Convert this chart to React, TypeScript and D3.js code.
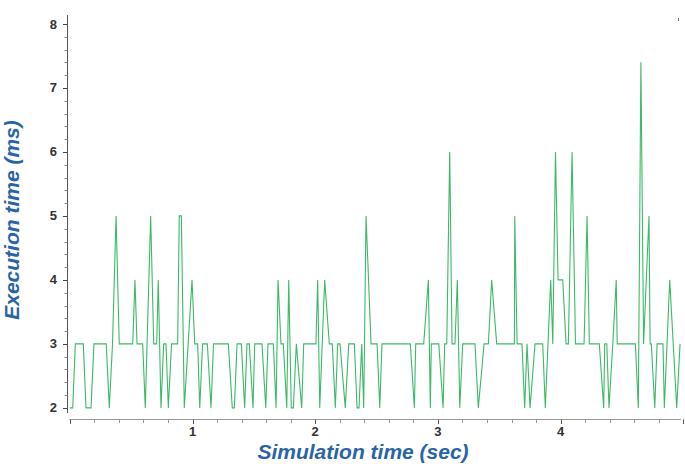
import React from "react";
import * as d3 from "d3";

// Simulation time (sec)
const times: number[] = [
  0, 0.024, 0.045, 0.110, 0.132, 0.173, 0.197, 0.297, 0.322, 0.348,
  0.377, 0.403, 0.513, 0.531, 0.548, 0.594, 0.615, 0.659, 0.684, 0.708,
  0.721, 0.743, 0.765, 0.784, 0.803, 0.829, 0.879, 0.892, 0.909, 0.933,
  0.996, 1.018, 1.042, 1.059, 1.082, 1.121, 1.151, 1.171, 1.292, 1.324,
  1.341, 1.363, 1.398, 1.425, 1.444, 1.463, 1.493, 1.507, 1.566, 1.597,
  1.615, 1.659, 1.681, 1.697, 1.721, 1.740, 1.768, 1.784, 1.805, 1.822,
  1.846, 1.890, 1.906, 2.006, 2.020, 2.037, 2.077, 2.115, 2.139, 2.164,
  2.183, 2.202, 2.245, 2.273, 2.319, 2.341, 2.357, 2.379, 2.395, 2.414,
  2.455, 2.504, 2.526, 2.544, 2.775, 2.808, 2.819, 2.884, 2.922, 2.938,
  2.946, 3.007, 3.042, 3.055, 3.072, 3.096, 3.115, 3.139, 3.158, 3.178,
  3.202, 3.302, 3.329, 3.376, 3.411, 3.438, 3.479, 3.623, 3.626, 3.645,
  3.685, 3.707, 3.726, 3.751, 3.791, 3.854, 3.875, 3.919, 3.936, 3.958,
  3.979, 4.017, 4.044, 4.063, 4.093, 4.121, 4.191, 4.215, 4.234, 4.315,
  4.351, 4.359, 4.376, 4.394, 4.425, 4.453, 4.461, 4.609, 4.633, 4.654,
  4.676, 4.720, 4.729, 4.739, 4.767, 4.786, 4.834, 4.845, 4.889, 4.946,
  4.973,
];

// Execution time (ms)
const execMs: number[] = [
  2, 2, 3, 3, 2, 2, 3, 3, 2, 3,
  5, 3, 3, 4, 3, 3, 2, 5, 3, 3,
  4, 2, 3, 3, 2, 3, 3, 5, 5, 2,
  4, 3, 3, 2, 3, 3, 2, 3, 3, 2,
  2, 3, 3, 2, 3, 3, 2, 3, 3, 2,
  3, 3, 2, 4, 3, 3, 2, 4, 2, 2,
  3, 2, 3, 3, 4, 2, 4, 3, 3, 2,
  3, 3, 2, 3, 3, 2, 2, 3, 2, 5,
  3, 3, 2, 3, 3, 2, 3, 3, 4, 2,
  3, 3, 2, 3, 3, 6, 3, 3, 4, 2,
  3, 3, 2, 3, 3, 4, 3, 3, 5, 3,
  3, 2, 3, 2, 3, 3, 2, 4, 3, 6,
  4, 4, 3, 3, 6, 3, 3, 5, 3, 3,
  2, 3, 3, 2, 3, 4, 3, 3, 2, 7.4,
  3, 5, 3, 3, 2, 3, 3, 2, 4, 2,
  3,
];

const xTickLabels: number[] = [1, 2, 3, 4];
const yTickLabels: number[] = [2, 3, 4, 5, 6, 7, 8];

const xTitle = "Simulation time (sec)";
const yTitle = "Execution time (ms)";

export default function App() {
  const W = 685;
  const H = 464;
  const x = d3.scaleLinear().domain([0, 4.98]).range([69.8, 680.9]);
  const y = d3.scaleLinear().domain([1.92, 8.14]).range([413, 15]);

  const data = times.map((t, i) => ({ t, v: execMs[i] }));
  const line = d3
    .line<{ t: number; v: number }>()
    .x((d) => x(d.t))
    .y((d) => y(d.v));

  const xMinor = d3.range(0, 5.0001, 0.2).map((v) => +v.toFixed(2));
  const yMinor = d3.range(2, 8.0001, 0.2).map((v) => +v.toFixed(2));
  const axisY = 419.5;
  const axisX = 67.5;

  return (
    <svg
      width={W}
      height={H}
      style={{ position: "absolute", left: 0, top: 0, background: "#fff" }}
      fontFamily="'Liberation Sans', Arial, sans-serif"
    >
      <rect x={0} y={0} width={W} height={H} fill="#fff" />
      {/* Y axis */}
      <line x1={axisX} x2={axisX} y1={y.range()[1]} y2={y.range()[0]} stroke="#555" strokeWidth={1} />
      {yMinor.map((v) => {
        const major = Math.abs(v - Math.round(v)) < 1e-6;
        return (
          <line
            key={"ym" + v}
            x1={major ? axisX - 4.5 : axisX - 3}
            x2={axisX}
            y1={Math.round(y(v)) + 0.5}
            y2={Math.round(y(v)) + 0.5}
            stroke={major ? "#444" : "#888"}
            strokeWidth={1}
          />
        );
      })}
      {yTickLabels.map((v) => (
        <text
          key={"yl" + v}
          x={57}
          y={y(v)}
          dy="0.35em"
          textAnchor="end"
          fontSize={13}
          fontWeight="bold"
          fill="#333"
        >
          {v}
        </text>
      ))}
      {/* X axis */}
      <line x1={x(0) - 0.5} x2={x.range()[1]} y1={axisY} y2={axisY} stroke="#999" strokeWidth={1} />
      {xMinor.map((v) => {
        const major = Math.abs(v - Math.round(v)) < 1e-6;
        return (
          <line
            key={"xm" + v}
            x1={Math.round(x(v)) + 0.5}
            x2={Math.round(x(v)) + 0.5}
            y1={axisY}
            y2={major ? axisY + 4.5 : axisY + 3.5}
            stroke={major ? "#555" : "#999"}
            strokeWidth={1}
          />
        );
      })}
      {xTickLabels.map((v) => (
        <text
          key={"xl" + v}
          x={x(v)}
          y={436}
          textAnchor="middle"
          fontSize={13}
          fontWeight="bold"
          fill="#333"
        >
          {v}
        </text>
      ))}
      {/* small mark top-right */}
      <line x1={678.5} x2={678.5} y1={18} y2={21} stroke="#777" strokeWidth={1} />
      {/* data line */}
      <path d={line(data) ?? ""} fill="none" stroke="#3dba68" strokeWidth={1.1} strokeLinejoin="miter" />
      {/* titles */}
      <text
        x={363}
        y={459}
        textAnchor="middle"
        fontSize={21}
        fontWeight="bold"
        fontStyle="italic"
        fill="#2b64a6"
      >
        {xTitle}
      </text>
      <text
        transform={`translate(18.5,220) rotate(-90)`}
        textAnchor="middle"
        fontSize={21}
        fontWeight="bold"
        fontStyle="italic"
        fill="#2b64a6"
      >
        {yTitle}
      </text>
    </svg>
  );
}
